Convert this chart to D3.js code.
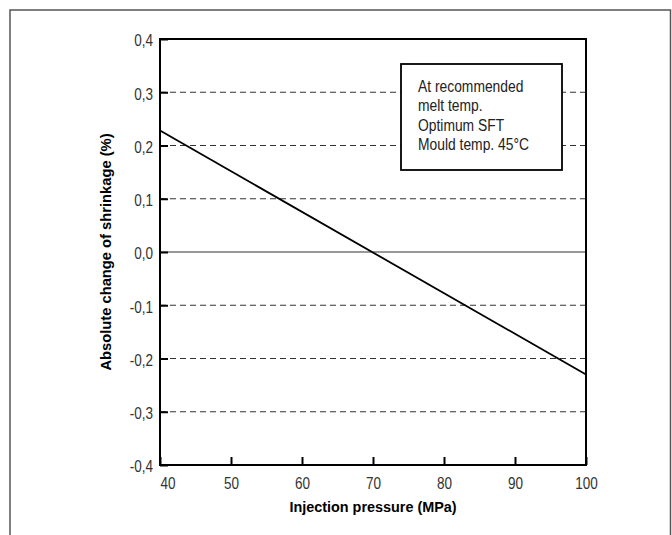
<!DOCTYPE html>
<html><head><meta charset="utf-8">
<script src="https://cdn.jsdelivr.net/npm/d3@7"></script>
<style>
body{margin:0;background:#fff;}
svg text{font-family:"Liberation Sans",Arial,sans-serif;}
</style></head>
<body><svg id="c" width="672" height="535"></svg>
<script>
const pressure = [40, 100];
const shrinkChange = [0.228, -0.230];
const xTicks = [40, 50, 60, 70, 80, 90, 100];
const yTicks = [-0.4, -0.3, -0.2, -0.1, 0.0, 0.1, 0.2, 0.3, 0.4];
const noteLines = ["At recommended", "melt temp.", "Optimum SFT", "Mould temp. 45°C"];

const svg = d3.select("#c");
const L = 160, R = 586, T = 39, B = 465;
const x = d3.scaleLinear().domain([40, 100]).range([L, R]);
const y = d3.scaleLinear().domain([-0.4, 0.4]).range([B, T]);
const fmt = d => d3.format(".1f")(d).replace(".", ",").replace("−","-");
const SX = 0.82; // condensed look

// outer frame
svg.append("rect").attr("x", 10).attr("y", 10).attr("width", 660.5).attr("height", 540)
  .attr("fill", "none").attr("stroke", "#555").attr("stroke-width", 1.5);

// grid
svg.append("g").selectAll("line").data(yTicks.filter(v => Math.abs(v) > 1e-9 && Math.abs(v) < 0.39))
  .join("line").attr("x1", L).attr("x2", R).attr("y1", d => y(d)).attr("y2", d => y(d))
  .attr("stroke", "#333").attr("stroke-width", 1).attr("stroke-dasharray", "6,4");
svg.append("line").attr("x1", L).attr("x2", R).attr("y1", y(0)).attr("y2", y(0))
  .attr("stroke", "#333").attr("stroke-width", 1);

// axes
const yAxis = d3.axisLeft(y).tickValues(yTicks).tickSize(-8).tickFormat(fmt);
const gy = svg.append("g").attr("transform", `translate(${L},0)`).call(yAxis);
gy.select(".domain").remove();
gy.selectAll(".tick line").attr("stroke", "#000").attr("stroke-width", 2);
gy.selectAll(".tick text").attr("font-size", 16.5).attr("fill", "#333")
  .attr("x", -7 / SX).attr("dy", "0.42em").attr("transform", `scale(${SX},1)`);

const xAxis = d3.axisBottom(x).tickValues(xTicks).tickSize(-8).tickPadding(12).tickFormat(d3.format("d"));
const gx = svg.append("g").attr("transform", `translate(0,${B})`).call(xAxis);
gx.select(".domain").remove();
gx.selectAll(".tick line").attr("stroke", "#000").attr("stroke-width", 2);
gx.selectAll(".tick text").attr("font-size", 16.5).attr("fill", "#333").attr("transform", `scale(${SX},1)`)
  .attr("text-anchor", (d, i) => i === 0 ? "start" : "middle")
  .attr("x", (d, i) => i === 0 ? 0 : 0);

// plot frame
svg.append("rect").attr("x", L).attr("y", T).attr("width", R - L).attr("height", B - T)
  .attr("fill", "none").attr("stroke", "#000").attr("stroke-width", 2);

// data line
const line = d3.line().x((d, i) => x(pressure[i])).y(d => y(d));
svg.append("path").datum(shrinkChange).attr("d", line)
  .attr("fill", "none").attr("stroke", "#000").attr("stroke-width", 1.8);

// note box
svg.append("rect").attr("x", 401).attr("y", 64).attr("width", 161).attr("height", 106)
  .attr("fill", "#fff").attr("stroke", "#000").attr("stroke-width", 1.8);
svg.append("g").selectAll("g").data(noteLines).join("g")
  .attr("transform", (d, i) => `translate(418,${92 + i * 19.3})`)
  .append("text").attr("transform", "scale(0.84,1)")
  .attr("font-size", 16.5).attr("fill", "#222").text(d => d);

// titles
svg.append("g").attr("transform", `translate(${(L + R) / 2},512)`)
  .append("text").attr("transform", "scale(0.93,1)").attr("text-anchor", "middle")
  .attr("font-size", 15.5).attr("font-weight", "bold").attr("fill", "#000").text("Injection pressure (MPa)");
svg.append("g").attr("transform", `translate(111,${(T + B) / 2}) rotate(-90)`)
  .append("text").attr("transform", "scale(0.95,1)").attr("text-anchor", "middle")
  .attr("font-size", 15.5).attr("font-weight", "bold").attr("fill", "#000").text("Absolute change of shrinkage (%)");
</script></body></html>
